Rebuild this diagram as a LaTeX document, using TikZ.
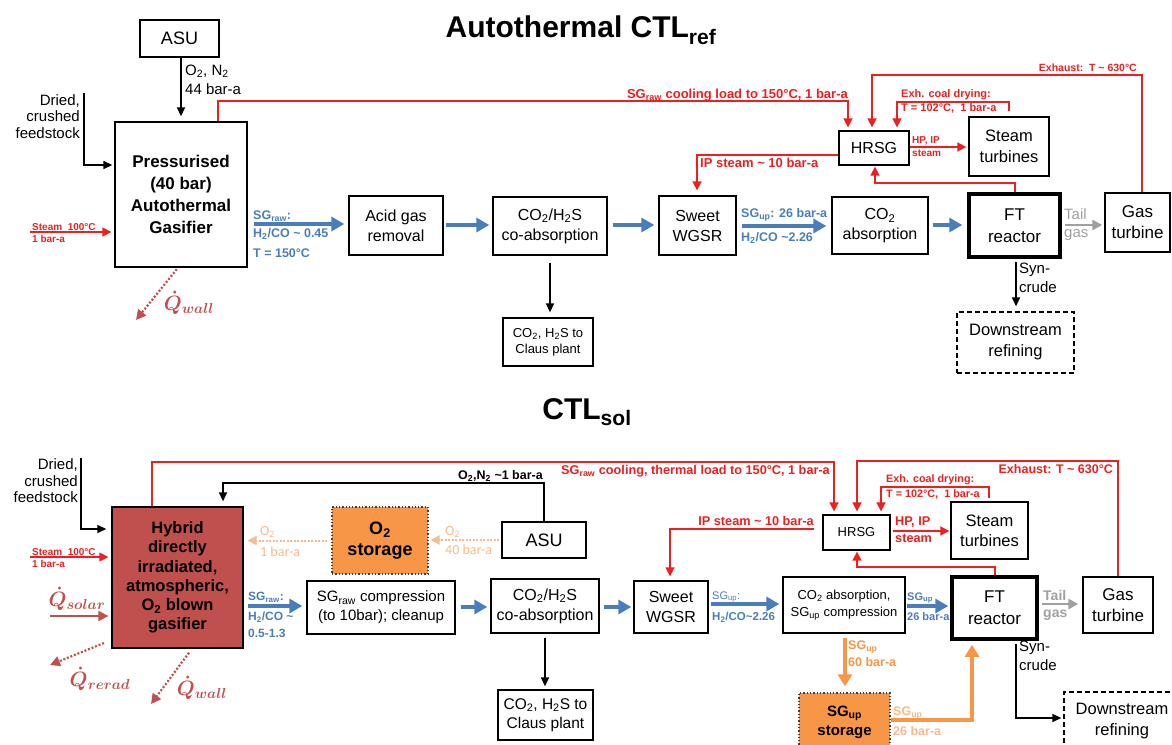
\documentclass[tikz,border=0pt]{standalone}
\usepackage{fontspec}
\setmainfont{Liberation Sans}
\newfontfamily\calib{Carlito}
\usetikzlibrary{arrows.meta}
\definecolor{cred}{RGB}{240,30,30}
\definecolor{cblue}{RGB}{74,126,187}
\definecolor{dred}{RGB}{192,80,77}
\definecolor{corange}{RGB}{247,150,70}
\definecolor{lorange}{RGB}{248,185,140}
\definecolor{cgray}{RGB}{160,160,160}
\newcommand{\sbs}[1]{\textsubscript{#1}}
\newcommand{\fsz}[2]{\fontsize{#1}{#2}\selectfont}
\newcommand{\tld}{\textasciitilde}
\newcommand{\qdot}[1]{{\boldmath$\dot{Q}_{#1}$}}
\tikzset{
  box/.style={draw, line width=1.3pt, align=center, inner sep=0pt, font=\fsz{16}{20}},
  wh/.style 2 args={minimum width=#1pt, minimum height=#2pt},
  ftbox/.style={box, line width=3.5pt, font=\fsz{17}{22}},
  storebox/.style={box, fill=corange, draw=black!75, dotted, line width=1.2pt, font=\bfseries\fsz{18}{21}},
  lbl/.style={inner sep=0pt, align=left},
  rl/.style={lbl, text=cred, font=\bfseries\fsz{13}{15}},
  bl/.style={lbl, text=cblue, font=\bfseries\fsz{12.5}{14}},
  redarr/.style={draw=cred, line width=1.6pt, -{Triangle[length=9pt,width=9pt]}},
  blackarr/.style={draw=black, line width=1.4pt, -{Triangle[length=9pt,width=8pt]}},
  bluearr/.style={draw=cblue, line width=4.5pt, -{Triangle[length=13pt,width=14pt]}},
  grayarr/.style={draw=cgray, line width=2.5pt, -{Triangle[length=10pt,width=10pt]}},
  orarr/.style={draw=corange, line width=4pt, -{Triangle[length=12pt,width=14pt]}},
  o2arr/.style={draw=lorange, line width=2pt, dash pattern=on 2pt off 1.5pt, -{Triangle[length=9pt,width=9pt]}},
  qarr/.style={draw=dred, line width=2.2pt, dash pattern=on 2pt off 1.8pt, -{Triangle[length=10pt,width=10pt]}},
  qlbl/.style={inner sep=0pt, text=dred, font=\fsz{21}{23}},
  drbox/.style={box, dash pattern=on 5pt off 3pt, font=\fsz{16.5}{21}},
}
\begin{document}
\begin{tikzpicture}[x=1pt,y=-1pt]
\useasboundingbox (0,0) rectangle (1172,744);
% ---------- titles
\node[inner sep=0pt, font=\bfseries\fsz{30}{34}] (t1) at (581,30) {Autothermal CTL\sbs{ref}};
\node[inner sep=0pt, font=\bfseries\fsz{30}{34}] (t2) at (587,412) {CTL\sbs{sol}};

% ================= TOP =================
\node[box, wh={79}{37}, font=\fsz{18}{20}] (asu1) at (179.5,38.5) {ASU};
\node[box, wh={132}{145}, font=\bfseries\fsz{17}{22}] (gas1) at (181,194.5) {Pressurised\\(40 bar)\\Autothermal\\Gasifier};
\node[box, wh={94}{59}] (acid) at (396,225.5) {Acid gas\\removal};
\node[box, wh={114}{58}] (coabs1) at (550,226) {CO\sbs{2}/H\sbs{2}S\\co-absorption};
\node[box, wh={77}{59}] (wgsr1) at (697.5,225.5) {Sweet\\WGSR};
\node[box, wh={90}{48}, font=\fsz{13}{16}] (claus1) at (548,342) {CO\sbs{2}, H\sbs{2}S to\\Claus plant};
\node[box, wh={96}{57}] (co2abs1) at (880,225.5) {CO\sbs{2}\\absorption};
\node[ftbox, wh={91}{63}] (ft1) at (1014.5,225.5) {FT\\reactor};
\node[box, wh={65}{59}, font=\fsz{17}{21}] (gt1) at (1137.5,222.5) {Gas\\turbine};
\node[box, wh={70}{34}] (hrsg1) at (874,148) {HRSG};
\node[box, wh={80}{59}, font=\fsz{16.5}{21}] (st1) at (1009,146.5) {Steam\\turbines};
\node[drbox, wh={117}{61}] (dr1) at (1015.5,342.5) {Downstream\\refining};

% labels top
\node[lbl, anchor=west, font=\fsz{15}{18}] (lo2a) at (185,71) {O\sbs{2}, N\sbs{2}};
\node[lbl, anchor=west, font=\fsz{15}{18}] (lo2b) at (185,89) {44 bar-a};
\node[lbl, anchor=east, align=right, font=\fsz{15}{16.7}] (feed1) at (80,116.5) {Dried,\\crushed\\feedstock};
\node[rl, anchor=south west, font=\bfseries\fsz{10}{12}] (stm1a) at (32,231) {Steam\ \ 100°C};
\node[rl, anchor=north west, font=\bfseries\fsz{10}{12}] (stm1b) at (32,235) {1 bar-a};
\node[qlbl] (qw1l) at (189,303) {\qdot{wall}};
\node[bl, anchor=west] (sgr1a) at (253,216) {SG\sbs{raw}:};
\node[bl, anchor=west] (sgr1b) at (253,234) {H\sbs{2}/CO \tld{} 0.45};
\node[bl, anchor=west] (sgr1c) at (253,253) {T = 150°C};
\node[rl, anchor=east] (lcool1) at (848,95) {SG\sbs{raw} cooling load to 150°C, 1 bar-a};
\node[rl, anchor=west] (lip1) at (700,163) {IP steam \tld{} 10 bar-a};
\node[rl, anchor=east, font=\bfseries\fsz{10.5}{12}] (lex1) at (1137,68) {Exhaust:\ \ T \tld{} 630°C};
\node[rl, anchor=west, font=\bfseries\fsz{11}{13}] (lcd1a) at (901,95) {Exh. coal drying:};
\node[rl, anchor=west, font=\bfseries\fsz{11}{13}] (lcd1b) at (901,108) {T = 102°C,\ \ 1 bar-a};
\node[rl, anchor=west, font=\bfseries\fsz{10}{12}] (lhp1a) at (912,141) {HP, IP};
\node[rl, anchor=west, font=\bfseries\fsz{10}{12}] (lhp1b) at (912,153) {steam};
\node[bl, anchor=west] (sgu1a) at (741,215) {SG\sbs{up}: 26 bar-a};
\node[bl, anchor=west] (sgu1b) at (741,238) {H\sbs{2}/CO \tld{}2.26};
\node[lbl, anchor=west, text=cgray, font=\fsz{15}{17}] (tg1a) at (1064,214) {Tail};
\node[lbl, anchor=west, text=cgray, font=\fsz{15}{17}] (tg1b) at (1064,235) {gas};
\node[lbl, anchor=west, font=\fsz{15}{17}] (sc1a) at (1019,270) {Syn-};
\node[lbl, anchor=west, font=\fsz{15}{17}] (sc1b) at (1019,287) {crude};

% connectors top
\coordinate (fd1) at (84,93);
\coordinate (st1in) at (30,232);
\coordinate (qw1) at (136,320);
\draw[blackarr, shorten >=5pt] (asu1.south -| gas1.north) -- (gas1.north);
\draw[blackarr, shorten >=2pt] (fd1) |- (gas1.west |- 0,165);
\draw[redarr, line width=1.4pt, shorten >=3pt] (st1in) -- (gas1.west |- 0,232);
\draw[qarr, shorten <=2pt] (gas1.south -| 178,0) -- (qw1);
\draw[bluearr, shorten <=6pt, shorten >=4pt] (gas1.east |- 0,224) -- (acid.west |- 0,224);
\draw[bluearr, shorten <=2pt, shorten >=3pt] (acid.east |- 0,225) -- (coabs1.west |- 0,225);
\draw[bluearr, shorten <=5pt, shorten >=4pt] (coabs1.east |- 0,225) -- (wgsr1.west |- 0,225);
\draw[bluearr, shorten <=5pt, shorten >=5pt] (wgsr1.east |- 0,226) -- (co2abs1.west |- 0,226);
\draw[bluearr, shorten <=4pt, shorten >=5pt] (co2abs1.east |- 0,225) -- (ft1.west |- 0,225);
\draw[grayarr, shorten <=3pt, shorten >=2pt] (ft1.east |- 0,225) -- (gt1.west |- 0,225);
\draw[blackarr, shorten <=7pt, shorten >=5pt] (coabs1.south) -- (coabs1.south |- claus1.north);
\draw[blackarr, shorten <=3pt, shorten >=5pt] (ft1.south -| 1016,0) -- (dr1.north -| 1016,0);
\draw[redarr, shorten >=3pt] (gas1.north -| 218,0) |- (848,101) -- (hrsg1.north -| 848,0);
\draw[redarr, shorten >=3pt] (gt1.north -| 1142,0) |- (872,75) -- (hrsg1.north -| 872,0);
\draw[redarr, shorten <=5pt, shorten >=3pt] (st1.north -| 1009,0) |- (897,102) -- (hrsg1.north -| 897,0);
\draw[redarr, shorten >=2pt] (hrsg1.east |- 0,147) -- (st1.west |- 0,147);
\draw[redarr, shorten >=5pt] (hrsg1.west |- 0,155) -| (wgsr1.north -| 697,0);
\draw[redarr, shorten >=1pt] (ft1.north -| 1015,0) |- (875,183) -- (hrsg1.south -| 875,0);

% ================= BOTTOM =================
\node[box, wh={131}{141}, fill=dred, font=\bfseries\fsz{16.5}{19.3}] (gas2) at (177.5,577.5) {Hybrid\\directly\\irradiated,\\atmospheric,\\O\sbs{2} blown\\gasifier};
\node[storebox, wh={96}{67}] (o2st) at (380,540.5) {O\sbs{2}\\storage};
\node[box, wh={84}{36}, font=\fsz{18}{20}] (asu2) at (544,540) {ASU};
\node[box, wh={148}{53}, font=\fsz{15}{19}] (comp) at (381,607.5) {SG\sbs{raw} compression\\(to 10bar); cleanup};
\node[box, wh={108}{54}] (coabs2) at (545,606) {CO\sbs{2}/H\sbs{2}S\\co-absorption};
\node[box, wh={74}{52}] (wgsr2) at (671,607) {Sweet\\WGSR};
\node[box, wh={95}{50}, font=\fsz{15.5}{19}] (claus2) at (545.5,715) {CO\sbs{2}, H\sbs{2}S to\\Claus plant};
\node[box, wh={67}{35}, font=\fsz{13}{15}] (hrsg2) at (856.5,532.5) {HRSG};
\node[box, wh={77}{57}, font=\fsz{16.5}{20}] (st2) at (989.5,530.5) {Steam\\turbines};
\node[box, wh={122}{56}, font=\fsz{13}{17}] (co2abs2) at (844,605) {CO\sbs{2} absorption,\\SG\sbs{up} compression};
\node[ftbox, wh={85}{62}] (ft2) at (994.5,608) {FT\\reactor};
\node[box, wh={70}{56}, font=\fsz{17}{21}] (gt2) at (1118,605) {Gas\\turbine};
\node[storebox, wh={91}{58}, font=\bfseries\fsz{15}{19}] (sgst) at (844.5,722) {SG\sbs{up}\\storage};
\node[drbox, wh={116}{58}] (dr2) at (1122,721) {Downstream\\refining};

% labels bottom
\node[lbl, anchor=east, align=right, font=\fsz{15}{16.5}] (feed2) at (78,481) {Dried,\\crushed\\feedstock};
\node[rl, anchor=south west, font=\bfseries\fsz{10}{12}] (stm2a) at (32,556) {Steam\ \ 100°C};
\node[rl, anchor=north west, font=\bfseries\fsz{10}{12}] (stm2b) at (32,560) {1 bar-a};
\node[qlbl] (qsl) at (77,599) {\qdot{solar}};
\node[qlbl] (qrl) at (100,679) {\qdot{rerad}};
\node[qlbl] (qw2l) at (202,688) {\qdot{wall}};
\node[lbl, anchor=west, text=lorange, font=\calib\fsz{14}{16}] (lo2c) at (260,532) {O\sbs{2}};
\node[lbl, anchor=west, text=lorange, font=\calib\fsz{14}{16}] (lo2d) at (260,552) {1 bar-a};
\node[lbl, anchor=west, text=lorange, font=\calib\fsz{14}{16}] (lo2e) at (445,532) {O\sbs{2}};
\node[lbl, anchor=west, text=lorange, font=\calib\fsz{14}{16}] (lo2f) at (445,550) {40 bar-a};
\node[lbl, anchor=east, font=\bfseries\fsz{12.5}{14}] (lo2n2) at (543,476) {O\sbs{2},N\sbs{2} \tld{}1 bar-a};
\node[rl, anchor=east, font=\bfseries\fsz{12.7}{15}] (lcool2) at (830,471) {SG\sbs{raw} cooling, thermal load to 150°C, 1 bar-a};
\node[rl, anchor=east, font=\bfseries\fsz{12.5}{14}] (lex2) at (1113,469) {Exhaust: T \tld{} 630°C};
\node[rl, anchor=west, font=\bfseries\fsz{10.8}{13}] (lcd2a) at (886,480) {Exh. coal drying:};
\node[rl, anchor=west, font=\bfseries\fsz{10.8}{13}] (lcd2b) at (886,494) {T = 102°C,\ \ 1 bar-a};
\node[rl, anchor=west, font=\bfseries\fsz{12.7}{14}] (lhp2a) at (895,522) {HP, IP};
\node[rl, anchor=west, font=\bfseries\fsz{12.7}{14}] (lhp2b) at (895,538) {steam};
\node[rl, anchor=east, font=\bfseries\fsz{12.7}{14}] (lip2) at (814,521) {IP steam \tld{} 10 bar-a};
\node[bl, anchor=west, font=\bfseries\fsz{12}{14}] (sgr2a) at (248,597) {SG\sbs{raw}:};
\node[bl, anchor=west, font=\bfseries\fsz{12}{14}] (sgr2b) at (248,617) {H\sbs{2}/CO \tld};
\node[bl, anchor=west, font=\bfseries\fsz{12}{14}] (sgr2c) at (248,633) {0.5-1.3};
\node[bl, anchor=west, font=\fsz{11}{13}] (sgu2a) at (712,597) {SG\sbs{up}:};
\node[bl, anchor=west, font=\bfseries\fsz{11.5}{13}] (sgu2b) at (712,617) {H\sbs{2}/CO\tld{}2.26};
\node[bl, anchor=west, font=\bfseries\fsz{11}{13}] (sgu3a) at (907,598) {SG\sbs{up}};
\node[bl, anchor=west, font=\bfseries\fsz{11}{13}] (sgu3b) at (907,617) {26 bar-a};
\node[lbl, anchor=west, text=cgray, font=\bfseries\fsz{14}{16}] (tg2a) at (1043,595) {Tail};
\node[lbl, anchor=west, text=cgray, font=\bfseries\fsz{14}{16}] (tg2b) at (1043,615) {gas};
\node[lbl, anchor=west, text=corange, font=\bfseries\fsz{12.5}{14}] (lsg60a) at (848,647) {SG\sbs{up}};
\node[lbl, anchor=west, text=corange, font=\bfseries\fsz{12.5}{14}] (lsg60b) at (848,662) {60 bar-a};
\node[lbl, anchor=west, text=lorange, font=\bfseries\fsz{12.5}{14}] (lsg26a) at (893,713) {SG\sbs{up}};
\node[lbl, anchor=west, text=lorange, font=\bfseries\fsz{12.5}{14}] (lsg26b) at (893,731) {26 bar-a};
\node[lbl, anchor=west, font=\fsz{15}{17}] (sc2a) at (1019,648) {Syn-};
\node[lbl, anchor=west, font=\fsz{15}{17}] (sc2b) at (1019,665) {crude};

% connectors bottom
\coordinate (fd2) at (81,458);
\coordinate (st2in) at (30,557);
\coordinate (qsin) at (50,616);
\coordinate (qr) at (50,665);
\coordinate (qw2) at (151,704);
\draw[blackarr, shorten >=5pt] (fd2) |- (gas2.west |- 0,529);
\draw[redarr, line width=1.4pt, shorten >=3pt] (st2in) -- (gas2.west |- 0,557);
\draw[draw=dred, line width=2.2pt, -{Triangle[length=10pt,width=10pt]}, shorten >=3pt] (qsin) -- (gas2.west |- 0,616);
\draw[qarr, shorten <=8pt] (gas2.west |- 0,640) -- (qr);
\draw[qarr, shorten <=5pt] (gas2.south -| 192,0) -- (qw2);
\draw[o2arr, shorten <=4pt, shorten >=4pt] (o2st.west) -- (gas2.east |- o2st.west);
\draw[o2arr, shorten <=2pt, shorten >=2pt] (asu2.west) -- (o2st.east |- asu2.west);
\draw[blackarr, shorten >=5pt] (asu2.north -| 544,0) |- (223,483) -- (gas2.north -| 223,0);
\draw[redarr, shorten >=3pt] (gas2.north -| 152,0) |- (834,462) -- (hrsg2.north -| 834,0);
\draw[redarr, shorten >=3pt] (gt2.north -| 1118,0) |- (857,461) -- (hrsg2.north -| 857,0);
\draw[redarr, shorten <=3pt, shorten >=3pt] (st2.north -| 989,0) |- (881,487) -- (hrsg2.north -| 881,0);
\draw[redarr, shorten <=2pt, shorten >=1pt] (hrsg2.east |- 0,531) -- (st2.west |- 0,531);
\draw[redarr, shorten <=8pt, shorten >=4pt] (hrsg2.west |- 0,529) -| (wgsr2.north -| 670,0);
\draw[redarr, shorten >=1pt] (ft2.north -| 995,0) |- (857,567) -- (hrsg2.south -| 857,0);
\draw[bluearr, shorten <=4pt, shorten >=4pt] (gas2.east |- 0,606) -- (comp.west |- 0,606);
\draw[bluearr, shorten <=5pt, shorten >=3pt] (comp.east |- 0,607) -- (coabs2.west |- 0,607);
\draw[bluearr, shorten <=4pt, shorten >=2pt] (coabs2.east |- 0,607) -- (wgsr2.west |- 0,607);
\draw[bluearr, shorten <=2pt, shorten >=3pt] (wgsr2.east |- 0,604) -- (co2abs2.west |- 0,604);
\draw[bluearr, shorten <=1pt, shorten >=2pt] (co2abs2.east |- 0,606) -- (ft2.west |- 0,606);
\draw[grayarr, shorten <=3pt, shorten >=4pt] (ft2.east |- 0,604) -- (gt2.west |- 0,604);
\draw[blackarr, shorten <=4pt, shorten >=3pt] (coabs2.south) -- (coabs2.south |- claus2.north);
\draw[orarr, shorten <=4pt, shorten >=6pt] (co2abs2.south -| 845,0) -- (sgst.north -| 845,0);
\draw[orarr, shorten >=4pt] (sgst.east |- 0,720) -| (ft2.south -| 972,0);
\draw[blackarr, shorten <=3pt, shorten >=2pt] (ft2.south -| 1016,0) |- (dr2.west |- 0,718);
\end{tikzpicture}
\end{document}
